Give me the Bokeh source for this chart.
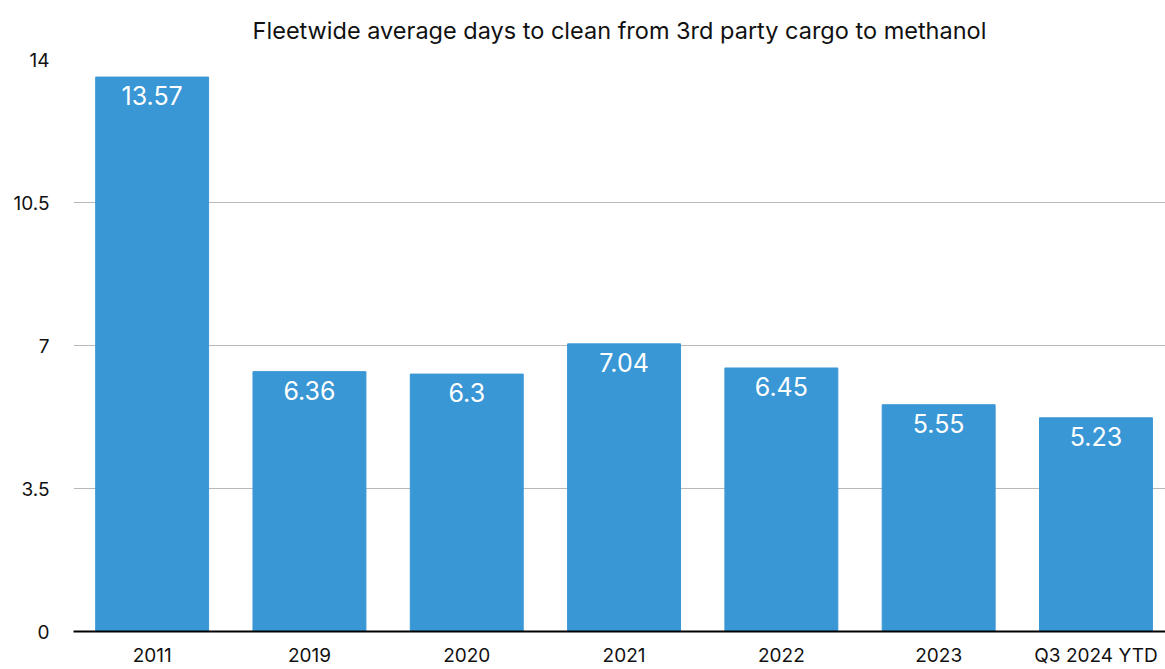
from bokeh.plotting import figure
from bokeh.models import ColumnDataSource, Range1d, FixedTicker, LabelSet
from bokeh.core.properties import value
from bokeh.embed import file_html
from bokeh.resources import INLINE

title_text = "Fleetwide average days to clean from 3rd party cargo to methanol"
categories = ["2011", "2019", "2020", "2021", "2022", "2023", "Q3 2024 YTD"]
values = [13.57, 6.36, 6.3, 7.04, 6.45, 5.55, 5.23]
value_labels = ["13.57", "6.36", "6.3", "7.04", "6.45", "5.55", "5.23"]
y_ticks = [0, 3.5, 7, 10.5, 14]
y_tick_labels = ["0", "3.5", "7", "10.5", "14"]

FONT = "Inter"
BAR = "#3a97d5"

xs = list(range(len(categories)))
src = ColumnDataSource(dict(x=xs, top=values, label=value_labels))

p = figure(width=1165, height=669, output_backend="svg", toolbar_location=None,
           x_range=Range1d(-0.5, 6.442), y_range=Range1d(0, 14),
           title=title_text,
           min_border_left=73, min_border_right=0, min_border_top=59, min_border_bottom=36)

p.vbar(x="x", top="top", width=0.718, bottom=0, color=BAR, source=src)

labels = LabelSet(x="x", y="top", text="label", source=src, text_align="center",
                  text_baseline="top", y_offset=-9, text_color="white",
                  text_font=value(FONT), text_font_size="25px")
p.add_layout(labels)

p.title.align = "center"
p.title.vertical_align = "top"
p.title.text_font = FONT
p.title.text_font_size = "23.5px"
p.title.text_font_style = "normal"
p.title.text_color = "#111111"
p.title.standoff = 26

p.outline_line_color = None
p.xgrid.grid_line_color = None
p.ygrid.grid_line_color = "#b8b8b8"
p.ygrid.grid_line_width = 1
p.ygrid.ticker = FixedTicker(ticks=y_ticks)

p.yaxis.ticker = FixedTicker(ticks=y_ticks)
p.yaxis.major_label_overrides = {t: l for t, l in zip(y_ticks, y_tick_labels)}
p.yaxis.axis_line_color = None
p.yaxis.major_tick_line_color = None
p.yaxis.major_tick_out = 0
p.yaxis.major_tick_in = 0
p.yaxis.minor_tick_line_color = None
p.yaxis.major_label_standoff = 24
p.yaxis.major_label_text_font = FONT
p.yaxis.major_label_text_font_size = "19px"
p.yaxis.major_label_text_color = "#111111"

p.xaxis.ticker = FixedTicker(ticks=xs)
p.xaxis.major_label_overrides = {i: c for i, c in zip(xs, categories)}
p.xaxis.axis_line_color = "black"
p.xaxis.axis_line_width = 2
p.xaxis.major_tick_line_color = None
p.xaxis.major_tick_out = 0
p.xaxis.major_tick_in = 0
p.xaxis.minor_tick_line_color = None
p.xaxis.major_label_standoff = 12
p.xaxis.major_label_text_font = FONT
p.xaxis.major_label_text_font_size = "19px"
p.xaxis.major_label_text_color = "#111111"

open("out.html", "w").write(file_html(p, INLINE))
